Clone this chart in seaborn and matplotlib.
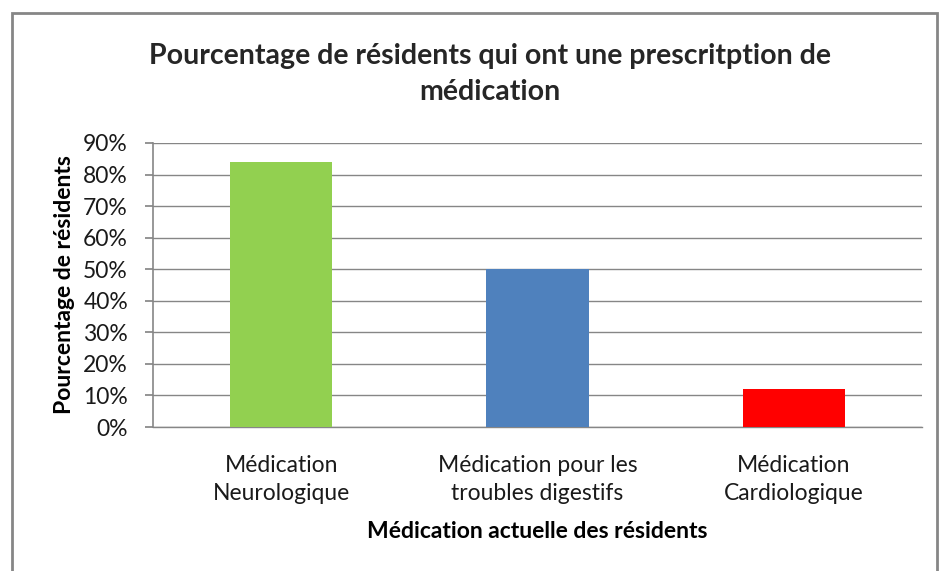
import matplotlib
matplotlib.use("Agg")
import matplotlib.pyplot as plt
import seaborn as sns
import pandas as pd
from matplotlib.patches import Rectangle
from matplotlib.ticker import FuncFormatter, MultipleLocator

categories = ["Médication\nNeurologique", "Médication pour les\ntroubles digestifs", "Médication\nCardiologique"]
values = [84, 50, 12]
colors = ["#92d050", "#4f81bd", "#ff0000"]

sns.set_theme(style="white")
plt.rcParams["font.family"] = ["Lato", "DejaVu Sans"]

df = pd.DataFrame({"cat": categories, "val": values})

fig = plt.figure(figsize=(9.43, 5.71), dpi=100)
ax = fig.add_axes([153 / 943, 1 - 427 / 571, (922 - 153) / 943, (427 - 143) / 571])

sns.barplot(data=df, x="cat", y="val", hue="cat", palette=colors, legend=False,
            width=0.4, saturation=1, linewidth=0, ax=ax, zorder=3)

ax.set_ylim(0, 90)
ax.set_xlim(-0.5, 2.5)
ax.yaxis.set_major_locator(MultipleLocator(10))
ax.yaxis.set_major_formatter(FuncFormatter(lambda v, p: f"{int(round(v))}%"))
ax.grid(axis="y", color="#868686", linewidth=1, zorder=0)
for s in ["top", "right"]:
    ax.spines[s].set_visible(False)
ax.spines["left"].set_color("#868686")
ax.spines["bottom"].set_color("#868686")
ax.spines["left"].set_linewidth(1.2)
ax.spines["bottom"].set_linewidth(1)
ax.tick_params(axis="y", left=True, length=6, color="#868686", labelsize=16.5, pad=12, labelcolor="#1a1a1a")
ax.tick_params(axis="x", bottom=False, labelsize=16.5, pad=14, labelcolor="#1a1a1a")
for t in ax.get_xticklabels():
    t.set_linespacing(1.45)

ax.set_xlabel("Médication actuelle des résidents", fontsize=16.5, fontweight="bold", labelpad=12, color="black")
ax.set_ylabel("Pourcentage de résidents", fontsize=16.5, fontweight="bold", labelpad=6, color="black")

fig.text(490 / 943, 1 - 74 / 571, "Pourcentage de résidents qui ont une prescritption de\nmédication",
         ha="center", va="center", fontsize=20.5, fontweight="bold", linespacing=1.5)

fig.patches.append(Rectangle((12 / 943, -0.1), (937 - 12) / 943, 1 - 13 / 571 + 0.1,
                             transform=fig.transFigure, fill=False, edgecolor="#868686", linewidth=2))

fig.savefig("out.png", dpi=100)
